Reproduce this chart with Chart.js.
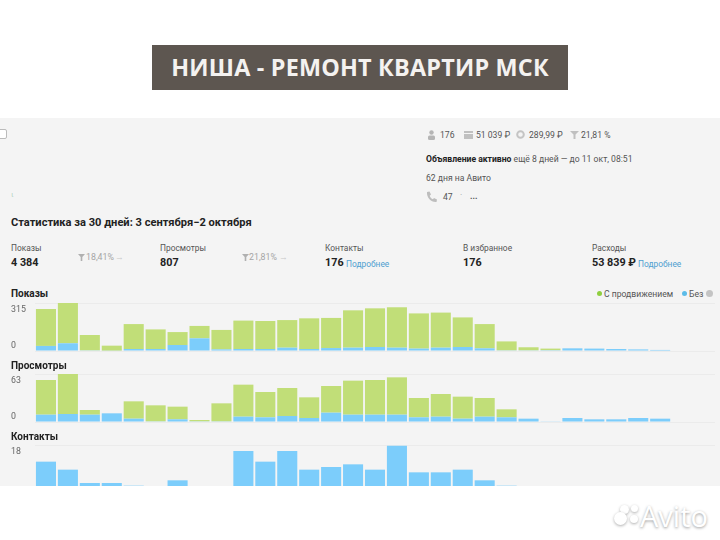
<!DOCTYPE html>
<html lang="ru">
<head>
<meta charset="utf-8">
<title>Ниша - ремонт квартир МСК</title>
<script src="https://cdn.jsdelivr.net/npm/chart.js@4"></script>
<style>
    html, body { margin: 0; padding: 0; background: #fff; }
    body { position: relative; width: 720px; height: 540px; overflow: hidden; font-family: Roboto, "Liberation Sans", sans-serif; color: #2b2b2b; }
    .t { position: absolute; white-space: nowrap; line-height: 1; }
    #banner { position: absolute; left: 152px; top: 45px; width: 416px; height: 45px; background: #5d5650; color: #f4f2f0; font: 700 23.4px/45px "Open Sans", sans-serif; text-align: center; letter-spacing: 0.2px; }
    #panel { position: absolute; left: 0; top: 118px; width: 720px; height: 368px; background: #f4f4f4; }
    #clip { position: absolute; left: 0; top: 0; width: 720px; height: 486px; overflow: hidden; }
    canvas { position: absolute; left: 0; }
    .small { font-size: 8.6px; color: #555; }
    .label { font-size: 8.4px; color: #555; }
    .value { font-size: 10.8px; font-weight: 700; color: #222; }
    .more { font-size: 8.4px; color: #4f9fd0; }
    .section { font-size: 10px; font-weight: 700; color: #222; }
    .muted { font-size: 8.8px; color: #a5a5a5; }
    .dot { position: absolute; width: 5px; height: 5px; border-radius: 50%; }
    .ico { position: absolute; }
    .blob { position: absolute; border-radius: 50%; background: #fff; box-shadow: 0 1px 3px rgba(0,0,0,.32); }
</style>
</head>
<body>
<div id="banner">НИША - РЕМОНТ КВАРТИР МСК</div>
<div id="panel"></div>

<div id="clip">
    <canvas id="chartShows"></canvas>
    <canvas id="chartViews"></canvas>
    <canvas id="chartContacts"></canvas>
</div>

<!-- шапка объявления -->
<div style="position:absolute;left:-3px;top:129px;width:8px;height:8px;background:#fff;border:1px solid #bbb;border-radius:2px"></div>
<svg class="ico" style="left:427px;top:130px" width="9" height="10"><circle cx="4.5" cy="2.5" r="2.2" fill="#b5b5b5"/><rect x="1" y="5.5" width="7" height="4.5" rx="1.5" fill="#b5b5b5"/></svg>
<div class="t small" style="left:440px;top:131px">176</div>
<svg class="ico" style="left:464px;top:131px" width="9" height="8"><rect width="9" height="8" fill="#c0c0c0"/><rect y="2" width="9" height="1" fill="#f4f4f4"/></svg>
<div class="t small" style="left:476px;top:131px">51 039 ₽</div>
<svg class="ico" style="left:516px;top:130px" width="9" height="9"><circle cx="4.5" cy="4.5" r="3.3" fill="none" stroke="#c4c4c4" stroke-width="2"/></svg>
<div class="t small" style="left:529px;top:131px">289,99 ₽</div>
<svg class="ico" style="left:570px;top:131px" width="9" height="8"><path d="M0 0h9L5.5 3.5V8h-2V3.5z" fill="#c0c0c0"/></svg>
<div class="t small" style="left:581px;top:131px">21,81 %</div>
<div class="t small" style="left:426px;top:155px"><b style="color:#222">Объявление активно</b> ещё 8 дней — до 11 окт, 08:51</div>
<div class="t small" style="left:426px;top:174px">62 дня на Авито</div>
<svg class="ico" style="left:426px;top:191px" width="11" height="12"><path d="M1 1l2.5-.5 1.5 3-1.3 1.2c.6 1.6 1.8 3 3.2 3.6L8 7l3 1.6-.5 2.4C5 11.5.5 6.5 1 1z" fill="#bdbdbd"/></svg>
<div class="t small" style="left:443px;top:193px">47</div>
<div class="t small" style="left:460px;top:191px;color:#999">·</div>
<div class="t small" style="left:470px;top:192px;font-weight:700">...</div>
<div class="t" style="left:11px;top:191px;font-size:8px;color:#b7d4c4">ι</div>

<!-- сводка -->
<div class="t" style="left:11px;top:217px;font-size:11.1px;font-weight:700;color:#222">Статистика за 30 дней: 3 сентября−2 октября</div>

<div class="t label" style="left:11px;top:244px">Показы</div>
<div class="t value" style="left:11px;top:258px">4 384</div>
<svg class="ico" style="left:78px;top:254px" width="7" height="7"><path d="M0 0h7L4.3 3V7H2.7V3z" fill="#b0b0b0"/></svg>
<div class="t muted" style="left:86px;top:253px">18,41%</div>
<div class="t muted" style="left:115px;top:253px;color:#c8c8c8">→</div>

<div class="t label" style="left:160px;top:244px">Просмотры</div>
<div class="t value" style="left:160px;top:258px">807</div>
<svg class="ico" style="left:242px;top:254px" width="7" height="7"><path d="M0 0h7L4.3 3V7H2.7V3z" fill="#b0b0b0"/></svg>
<div class="t muted" style="left:249px;top:253px">21,81%</div>
<div class="t muted" style="left:279px;top:253px;color:#c8c8c8">→</div>

<div class="t label" style="left:325px;top:244px">Контакты</div>
<div class="t value" style="left:325px;top:258px">176</div>
<div class="t more" style="left:346px;top:260px">Подробнее</div>

<div class="t label" style="left:463px;top:244px">В избранное</div>
<div class="t value" style="left:463px;top:258px">176</div>

<div class="t label" style="left:592px;top:244px">Расходы</div>
<div class="t value" style="left:592px;top:258px">53 839 ₽</div>
<div class="t more" style="left:638px;top:260px">Подробнее</div>

<!-- заголовки графиков и легенда -->
<div class="t section" style="left:11px;top:289px">Показы</div>
<div class="t section" style="left:11px;top:361px">Просмотры</div>
<div class="t section" style="left:11px;top:432px">Контакты</div>

<div class="dot" style="left:597px;top:291px;background:#8fce3f"></div>
<div class="t small" style="left:604px;top:289.5px">С продвижением</div>
<div class="dot" style="left:682px;top:291px;background:#5cbce8"></div>
<div class="t small" style="left:689px;top:289.5px">Без</div>
<div class="dot" style="left:706px;top:290px;width:7px;height:7px;background:#c4c4c4"></div>

<!-- водяной знак -->
<div class="blob" style="left:620px;top:505px;width:9px;height:9px"></div>
<div class="blob" style="left:631px;top:505px;width:7px;height:7px"></div>
<div class="blob" style="left:614px;top:512px;width:13px;height:13px"></div>
<div class="blob" style="left:630px;top:515px;width:8px;height:8px"></div>
<div class="t" style="left:640px;top:501px;font:500 29px/1 'Open Sans',sans-serif;color:#fff;text-shadow:0 1px 3px rgba(0,0,0,.4)">Avito</div>

<script>
const days = [
    '3 сен', '4 сен', '5 сен', '6 сен', '7 сен', '8 сен', '9 сен', '10 сен', '11 сен', '12 сен',
    '13 сен', '14 сен', '15 сен', '16 сен', '17 сен', '18 сен', '19 сен', '20 сен', '21 сен', '22 сен',
    '23 сен', '24 сен', '25 сен', '26 сен', '27 сен', '28 сен', '29 сен', '30 сен', '1 окт', '2 окт', ''
];

const seriesPromo = 'С продвижением';
const seriesPlain = 'Без';

const showsPromo = [277, 302, 115, 37, 187, 147, 97, 93, 146, 213, 210, 207, 230, 226, 280, 290, 303, 264, 263, 222, 182, 67, 23, 12, 0, 0, 0, 0, 0, 0, 0];
const showsPlain = [38, 58, 5, 3, 15, 15, 45, 95, 12, 15, 15, 25, 15, 22, 25, 30, 25, 18, 25, 30, 20, 5, 5, 6, 20, 18, 15, 12, 8, 0, 0];
const viewsPromo = [52, 60, 7, 0, 26, 24, 19, 2, 27, 48, 38, 42, 31, 40, 51, 52, 56, 29, 34, 33, 28, 12, 0, 0, 0, 0, 0, 0, 0, 0, 0];
const viewsPlain = [11, 12, 11, 13, 5, 1, 4, 1, 1, 8, 7, 9, 6, 14, 11, 11, 11, 7, 8, 5, 8, 7, 5, 1, 6, 4, 4, 6, 5, 0, 0];
const contactsPlain = [14, 11, 6, 6, 5, 3, 7, 2, 3, 18, 14, 18, 11, 12, 13, 11, 20, 10, 10, 11, 7, 5, 1, 0, 1, 0, 1, 0, 0, 0, 0];

const showsTick = 315;
const showsMax = 360;
const viewsTick = 63;
const viewsMax = 72;
const contactsTick = 18;
const contactsMax = 20.25;

const colorPromo = '#c1de78';
const colorPlain = '#7ccdfb';
const gridColor = '#ebebeb';

// подписи оси: верхняя под линией, ноль приподнят над базовой линией
const axisLabels = {
    id: 'axisLabels',
    afterDraw(chart, args, opts) {
        const { ctx, scales: { y } } = chart;
        ctx.save();
        ctx.font = '8.8px Roboto, "Liberation Sans", sans-serif';
        ctx.fillStyle = '#666';
        ctx.textBaseline = 'middle';
        ctx.fillText(String(opts.tick), 11, y.getPixelForValue(opts.tick) + 1);
        ctx.fillText('0', 11, y.getPixelForValue(0) - 5.5);
        ctx.restore();
    }
};

function createPanel(canvasId, top, plotHeight, datasets, tick, max) {
    const canvas = document.getElementById(canvasId);
    canvas.style.top = (top - 1) + 'px';
    canvas.width = 715;
    canvas.height = plotHeight + 2;

    return new Chart(canvas, {
        type: 'bar',
        data: { labels: days, datasets },
        plugins: [axisLabels],
        options: {
            responsive: false,
            animation: false,
            events: [],
            layout: { padding: { top: 1, bottom: 1 } },
            plugins: {
                legend: { display: false },
                tooltip: { enabled: false },
                axisLabels: { tick }
            },
            scales: {
                x: { stacked: true, display: false },
                y: {
                    stacked: true,
                    min: 0,
                    max,
                    afterFit(scale) { scale.width = 35; },
                    afterBuildTicks(scale) {
                        scale.ticks = [{ value: 0 }, { value: max }];
                    },
                    border: { display: false },
                    grid: { color: gridColor, drawTicks: false },
                    ticks: { display: false }
                }
            }
        }
    });
}

function barSet(label, data, color) {
    return {
        label,
        data,
        backgroundColor: color,
        borderWidth: 0,
        categoryPercentage: 1,
        barPercentage: 0.915
    };
}

createPanel('chartShows', 303, 48, [
    barSet(seriesPlain, showsPlain, colorPlain),
    barSet(seriesPromo, showsPromo, colorPromo)
], showsTick, showsMax);

createPanel('chartViews', 374, 48, [
    barSet(seriesPlain, viewsPlain, colorPlain),
    barSet(seriesPromo, viewsPromo, colorPromo)
], viewsTick, viewsMax);

createPanel('chartContacts', 445, 54, [
    barSet(seriesPlain, contactsPlain, colorPlain)
], contactsTick, contactsMax);
</script>
</body>
</html>
